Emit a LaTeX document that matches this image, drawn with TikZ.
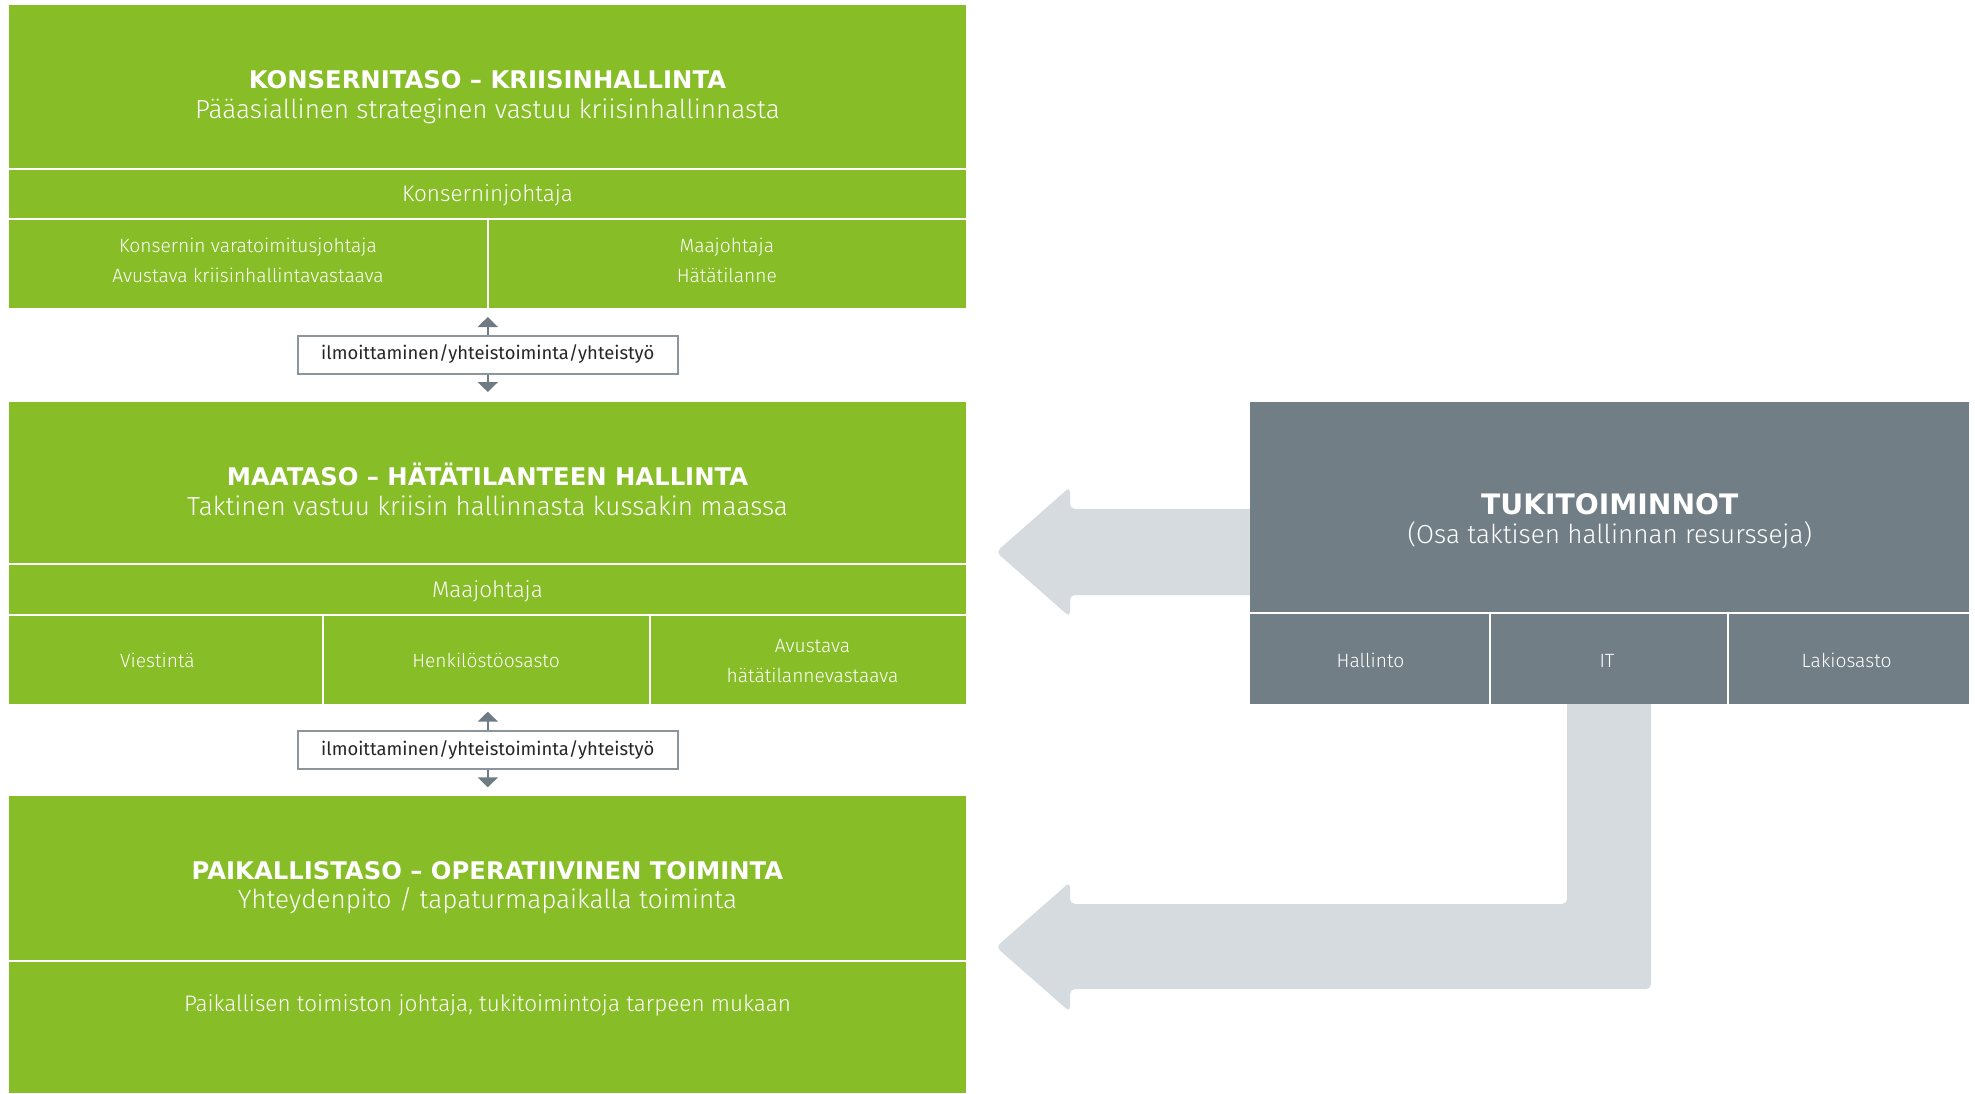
\documentclass[tikz,border=0pt]{standalone}
\usepackage{fontspec}
\setmainfont{Fira Sans}
\newfontfamily\lightf{Fira Sans Light}
\newfontfamily\heavyf{DejaVu Sans}
\usetikzlibrary{arrows.meta}
\definecolor{grn}{HTML}{87BD27}
\definecolor{slate}{HTML}{717E86}
\definecolor{pale}{HTML}{D5DBDF}
\definecolor{tipgray}{HTML}{6F7B83}
\definecolor{framegray}{HTML}{8C959B}
\tikzset{
  gbox/.style={fill=grn, draw=none, inner sep=0pt, outer sep=0pt},
  sbox/.style={fill=slate, draw=none, inner sep=0pt, outer sep=0pt},
  divline/.style={draw=white, line width=2pt},
  ttl/.style={text=white, anchor=base, inner sep=0pt, font=\heavyf\bfseries\fontsize{24.3}{29}\selectfont},
  sub/.style={text=white, anchor=base, inner sep=0pt, font=\lightf\fontsize{26.1}{31}\selectfont},
  hdr/.style={text=white, anchor=base, inner sep=0pt, font=\lightf\fontsize{22.5}{27}\selectfont},
  cell/.style={text=white, anchor=base, inner sep=0pt, font=\lightf\fontsize{19.2}{23}\selectfont},
  labbox/.style={draw=framegray, line width=2pt, fill=white, inner sep=0pt,
    minimum width=380pt, minimum height=38pt, font=\fontsize{18.4}{22}\selectfont, text=black!85},
  smarrow/.style={draw=tipgray, line width=2pt, -{Triangle[width=20pt,length=10pt]}, color=tipgray},
  bigarrow/.style={fill=pale, draw=none, rounded corners=5pt}
}
\begin{document}
\begin{tikzpicture}[x=1pt,y=-1pt]
\useasboundingbox (0,0) rectangle (1975,1093);

% light arrows (behind)
\fill[bigarrow] (1260,509) -- (1070,509) -- (1070,487) -- (996,552) -- (1070,617) -- (1070,595) -- (1260,595) -- cycle;
\fill[bigarrow] (1651,695) -- (1651,989) -- (1070,989) -- (1070,1012) -- (996,947) -- (1070,882) -- (1070,904) -- (1567,904) -- (1567,695) -- cycle;

% top green box
\node[gbox, minimum width=957pt, minimum height=303pt] (topbox) at (487.5,156.5) {};
\draw[divline] (9,168.8) -- (966,168.8);
\draw[divline] (9,219.2) -- (966,219.2);
\draw[divline] (487.5,219.2) -- (487.5,308);
\node[ttl] (t1) at (487.5,88.3) {KONSERNITASO – KRIISINHALLINTA};
\node[sub] (s1) at (487.5,118.3) {Pääasiallinen strateginen vastuu kriisinhallinnasta};
\node[hdr] (h1) at (487.5,201) {Konserninjohtaja};
\node[cell] (c11) at (248,252.5) {Konsernin varatoimitusjohtaja};
\node[cell] (c12) at (248,282.5) {Avustava kriisinhallintavastaava};
\node[cell] (c13) at (726.8,252.5) {Maajohtaja};
\node[cell] (c14) at (726.8,282.5) {Hätätilanne};

% label 1
\node[labbox] (lab1) at (487.8,354.5) {\raisebox{-4pt}{ilmoittaminen/yhteistoiminta/yhteistyö}};
\coordinate (up1) at (487.8,317);
\coordinate (dn1) at (487.8,392);
\draw[smarrow] (lab1.north) -- (up1);
\draw[smarrow] (lab1.south) -- (dn1);

% middle green box
\node[gbox, minimum width=957pt, minimum height=302.2pt] (midbox) at (487.5,552.9) {};
\draw[divline] (9,564.3) -- (966,564.3);
\draw[divline] (9,614.7) -- (966,614.7);
\draw[divline] (322.5,614.7) -- (322.5,704);
\draw[divline] (650,614.7) -- (650,704);
\node[ttl] (t2) at (487.5,485) {MAATASO – HÄTÄTILANTEEN HALLINTA};
\node[sub] (s2) at (487.5,515) {Taktinen vastuu kriisin hallinnasta kussakin maassa};
\node[hdr] (h2) at (487.5,597.5) {Maajohtaja};
\node[cell] (c21) at (157.5,667) {Viestintä};
\node[cell] (c22) at (486,667) {Henkilöstöosasto};
\node[cell] (c23) at (812.5,652.5) {Avustava};
\node[cell] (c24) at (812.5,682.5) {hätätilannevastaava};

% label 2
\node[labbox] (lab2) at (487.8,750) {\raisebox{-4pt}{ilmoittaminen/yhteistoiminta/yhteistyö}};
\coordinate (up2) at (487.8,711.7);
\coordinate (dn2) at (487.8,787.3);
\draw[smarrow] (lab2.north) -- (up2);
\draw[smarrow] (lab2.south) -- (dn2);

% bottom green box
\node[gbox, minimum width=957pt, minimum height=297pt] (botbox) at (487.5,944.5) {};
\draw[divline] (9,961) -- (966,961);
\node[ttl] (t3) at (487.5,879) {PAIKALLISTASO – OPERATIIVINEN TOIMINTA};
\node[sub] (s3) at (487.5,908.3) {Yhteydenpito / tapaturmapaikalla toiminta};
\node[hdr] (b3) at (487.5,1011.7) {Paikallisen toimiston johtaja, tukitoimintoja tarpeen mukaan};

% grey box
\node[sbox, minimum width=719pt, minimum height=302.2pt] (greybox) at (1609.5,552.9) {};
\draw[divline] (1250,613.4) -- (1969,613.4);
\draw[divline] (1490,613.4) -- (1490,704);
\draw[divline] (1728,613.4) -- (1728,704);
\node[ttl, font=\heavyf\bfseries\fontsize{28.2}{34}\selectfont] (t4) at (1609.8,514) {TUKITOIMINNOT};
\node[sub] (s4) at (1609.8,543) {(Osa taktisen hallinnan resursseja)};
\node[cell] (g1) at (1370.5,667) {Hallinto};
\node[cell] (g2) at (1607,667) {IT};
\node[cell] (g3) at (1846.6,667) {Lakiosasto};
\end{tikzpicture}
\end{document}
